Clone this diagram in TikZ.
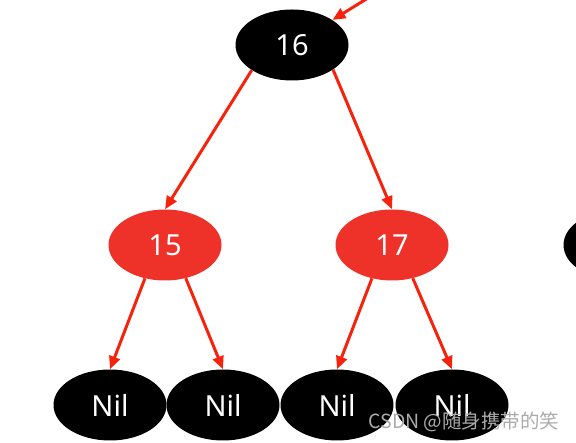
\documentclass[tikz,border=0pt]{standalone}
\usepackage{fontspec}
\setmainfont{Noto Sans}
\newfontfamily\cjk{Noto Sans CJK SC}
\usepackage{tikz}
\usetikzlibrary{arrows.meta,shapes.geometric}
\definecolor{rbred}{HTML}{EE3129}
\definecolor{edgered}{HTML}{F7220C}
\definecolor{wmgray}{HTML}{ABABAB}

\begin{document}
\begin{tikzpicture}[x=1bp,y=1bp,>={Triangle[length=13bp,width=11bp]},
  blacknode/.style={ellipse,fill=black,text=white,minimum width=113bp,minimum height=71bp,inner sep=0pt,font=\fontsize{29bp}{32bp}\selectfont},
  rednode/.style={blacknode,fill=rbred},
  link/.style={->,edgered,line width=3bp}]
\useasboundingbox (0,0) rectangle (576,443);
\clip (0,0) rectangle (576,443);
\node[blacknode] (n16) at (292,398) {16};
\node[rednode] (n15) at (165,198) {15};
\node[rednode] (n17) at (392,198) {17};
\node[blacknode] (nilA) at (110,38) {Nil};
\node[blacknode] (nilB) at (223,38) {Nil};
\node[blacknode] (nilC) at (337,38) {Nil};
\node[blacknode] (nilD) at (452,38) {Nil};
\node[blacknode] (side) at (620,198) {};
\coordinate (parent) at (368,445);
\draw[link] (parent) -- (n16);
\draw[link] (n16.212) -- (n15.north);
\draw[link] (n16.329) -- (n17.north);
\draw[link] (n15.239) -- (nilA.north);
\draw[link] (n15.302) -- (nilB.north);
\draw[link] (n17.239) -- (nilC.north);
\draw[link] (n17.302) -- (nilD.north);
% watermark
\node[wmgray,font=\cjk\fontsize{19.5bp}{21bp}\selectfont] (mark) at (464,21) {CSDN @随身携带的笑};
\end{tikzpicture}
\end{document}
